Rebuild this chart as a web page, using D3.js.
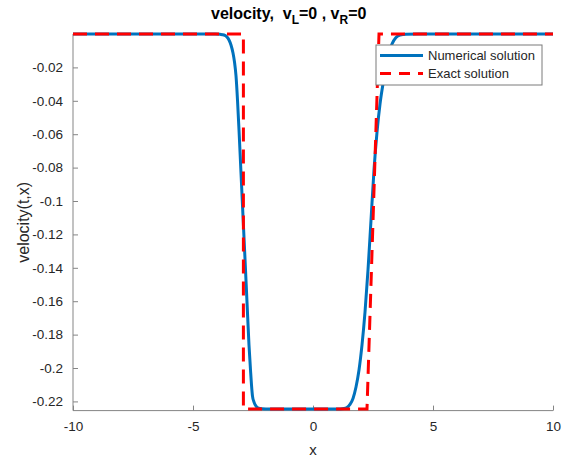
<!DOCTYPE html>
<html>
<head>
<meta charset="utf-8">
<script src="https://cdn.jsdelivr.net/npm/d3@7"></script>
<style>
  html, body { margin: 0; padding: 0; background: #fff; }
  svg { display: block; font-family: "Liberation Sans", Arial, sans-serif; }
</style>
</head>
<body>
<svg id="chart" width="563" height="462"></svg>
<script>
// Numerical solution (smeared profile)
const numX = [-10, -4.6, -4.083, -3.875, -3.708, -3.583, -3.5, -3.417, -3.333, -3.271, -3.208,
  -3.146, -3.083, -3.0, -2.917, -2.833, -2.75, -2.667, -2.604, -2.562, -2.521, -2.458, -2.375,
  -2.271, -2.125, -1.958, 0, 1.125, 1.292, 1.417, 1.542, 1.667, 1.792, 1.917, 2.042, 2.167,
  2.292, 2.417, 2.542, 2.667, 2.792, 2.917, 3.042, 3.167, 3.292, 3.458, 3.625, 3.875, 4.4, 10];
const numV = [0, 0, 0, -0.0002, -0.0006, -0.0018, -0.0036, -0.0066, -0.0114, -0.0168, -0.0251,
  -0.0395, -0.0575, -0.0832, -0.109, -0.1347, -0.1605, -0.1862, -0.2012, -0.2102, -0.2168,
  -0.2204, -0.2228, -0.224, -0.2244, -0.2245, -0.2245, -0.2245, -0.2243, -0.2236, -0.2218,
  -0.2182, -0.2114, -0.2012, -0.1862, -0.1665, -0.1413, -0.1114, -0.0814, -0.0587, -0.0419,
  -0.0299, -0.0198, -0.012, -0.006, -0.0021, -0.0006, -0.0001, 0, 0];

// Exact solution (shock on the left, narrow fan on the right)
const exactX = [-10, -2.9, -2.9, 2.25, 2.75, 10];
const exactV = [0, 0, -0.2245, -0.2245, 0, 0];

const xTicks = [-10, -5, 0, 5, 10];
const yTicks = [-0.02, -0.04, -0.06, -0.08, -0.1, -0.12, -0.14, -0.16, -0.18, -0.2, -0.22];
const seriesNames = ["Numerical solution", "Exact solution"];
const seriesColors = ["#0072BD", "#FF0000"];

const svg = d3.select("#chart");
const plotL = 73, plotR = 553, plotT = 34, plotB = 410.6;

const x = d3.scaleLinear().domain([-10, 10]).range([plotL, plotR]);
const y = d3.scaleLinear().domain([-0.2255, 0]).range([plotB, plotT]);

const textColor = "#262626";
const axisColor = "#858585";

// Axes (left and bottom only, ticks pointing inward)
const yAxis = d3.axisLeft(y).tickValues(yTicks).tickSizeInner(-5).tickSizeOuter(0)
  .tickPadding(10).tickFormat(d => String(+d.toFixed(2)));
const gy = svg.append("g").attr("transform", `translate(${plotL},0)`).call(yAxis);

const xAxis = d3.axisBottom(x).tickValues(xTicks).tickSizeInner(-5).tickSizeOuter(0)
  .tickPadding(11).tickFormat(d => String(d));
const gx = svg.append("g").attr("transform", `translate(0,${plotB})`).call(xAxis);

[gx, gy].forEach(g => {
  g.select(".domain").attr("stroke", axisColor).attr("stroke-width", 1);
  g.selectAll(".tick line").attr("stroke", axisColor);
  g.selectAll(".tick text").attr("fill", textColor).attr("font-size", 13.5)
    .attr("font-family", "Liberation Sans, Arial, sans-serif");
});
gy.select(".domain").attr("d", `M0,${plotT}V${plotB}`);
gx.select(".domain").attr("d", `M${plotL},0H${plotR}`);

// Curves
const numData = numX.map((v, i) => [v, numV[i]]);
const exactData = exactX.map((v, i) => [v, exactV[i]]);

svg.append("path").datum(numData)
  .attr("d", d3.line().x(d => x(d[0])).y(d => y(d[1])).curve(d3.curveMonotoneX))
  .attr("fill", "none").attr("stroke", seriesColors[0]).attr("stroke-width", 3)
  .attr("stroke-linejoin", "round");

svg.append("path").datum(exactData)
  .attr("d", d3.line().x(d => x(d[0])).y(d => y(d[1])))
  .attr("fill", "none").attr("stroke", seriesColors[1]).attr("stroke-width", 3)
  .attr("stroke-dasharray", "14,8");

// Legend
const lg = svg.append("g");
lg.append("rect").attr("x", 376).attr("y", 45).attr("width", 166).attr("height", 40)
  .attr("fill", "#fff").attr("stroke", "#7a7a7a").attr("stroke-width", 1);
seriesNames.forEach((name, i) => {
  const ly = 55.5 + i * 18;
  lg.append("line").attr("x1", 380).attr("x2", 423).attr("y1", ly).attr("y2", ly)
    .attr("stroke", seriesColors[i]).attr("stroke-width", 3)
    .attr("stroke-dasharray", i === 1 ? "11,8" : null);
  lg.append("text").attr("x", 428).attr("y", ly + 4.5).attr("font-size", 13)
    .attr("fill", textColor).text(name);
});

// Title with subscripts
const title = svg.append("text").attr("x", 211).attr("y", 19)
  .attr("text-anchor", "start").attr("font-size", 16).attr("font-weight", "bold")
  .attr("fill", "#000").style("white-space", "pre");
title.append("tspan").text("velocity,  v");
title.append("tspan").attr("dy", 5).attr("font-size", 12).text("L");
title.append("tspan").attr("dy", -5).text("=0 , v");
title.append("tspan").attr("dy", 5).attr("font-size", 12).text("R");
title.append("tspan").attr("dy", -5).text("=0");

// Axis labels
svg.append("text").attr("x", (plotL + plotR) / 2).attr("y", 455)
  .attr("text-anchor", "middle").attr("font-size", 15).attr("fill", textColor).text("x");
svg.append("text").attr("transform", `translate(29,${(plotT + plotB) / 2}) rotate(-90)`)
  .attr("text-anchor", "middle").attr("font-size", 16).attr("fill", textColor)
  .text("velocity(t,x)");
</script>
</body>
</html>
